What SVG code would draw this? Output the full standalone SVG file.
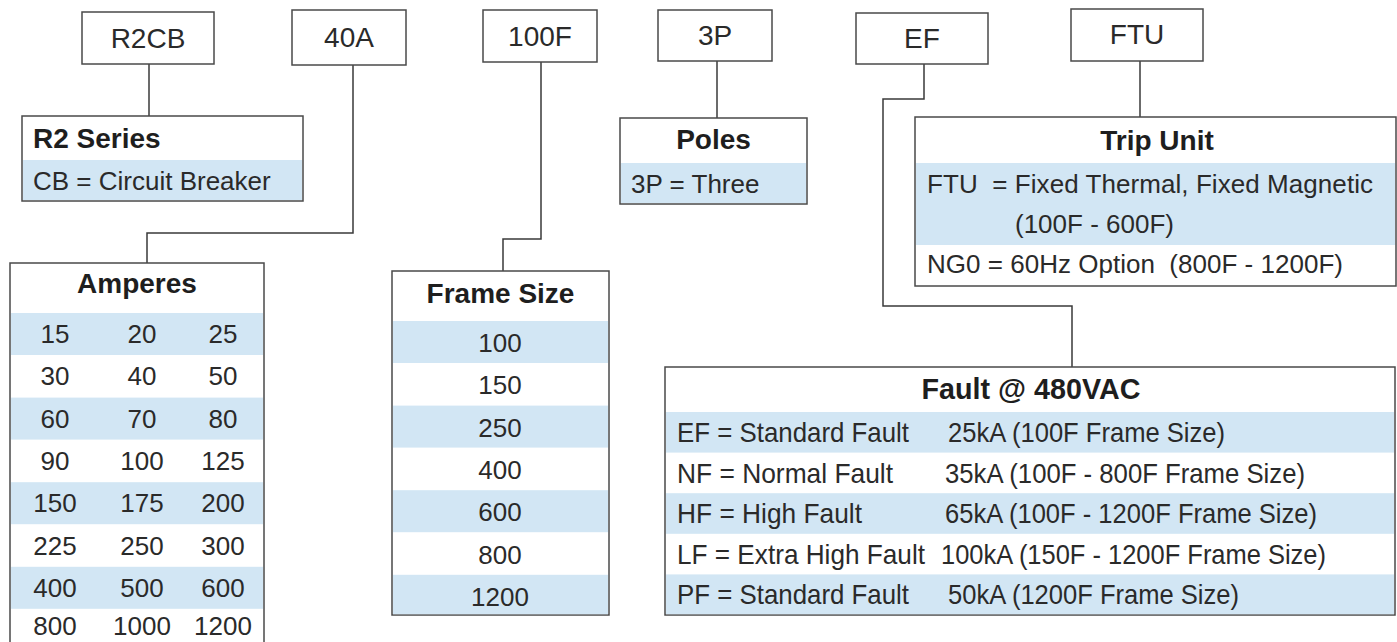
<svg xmlns="http://www.w3.org/2000/svg" width="1397" height="642" viewBox="0 0 1397 642">
<style>
text{font-family:"Liberation Sans",Arial,sans-serif;fill:#2a2a2a}
.lbl{font-size:28px;text-anchor:middle}
.hd{font-size:28px;font-weight:bold;text-anchor:middle;fill:#1e1e1e}
.hdl{font-size:28px;font-weight:bold;fill:#1e1e1e}
.tx{font-size:26px}
.ft{font-size:28px}
.num{font-size:26px;text-anchor:middle}
.box{fill:#fff;stroke:#4a4a4a;stroke-width:1.5}
.blue{fill:#d2e6f4}
.conn{fill:none;stroke:#3a3a3a;stroke-width:1.5}
</style>
<rect width="1397" height="642" fill="#fff"/>

<g id="connectors">
<polyline class="conn" points="149,64 149,116"/>
<polyline class="conn" points="353,65 353,233 147,233 147,263"/>
<polyline class="conn" points="541,62 541,239 503,239 503,271"/>
<polyline class="conn" points="717,61 717,118"/>
<polyline class="conn" points="924,64 924,99 883,99 883,306 1072,306 1072,367"/>
<polyline class="conn" points="1140,61 1140,117"/>
</g>

<g id="code-r2cb"><rect class="box" x="82" y="12" width="132" height="52"/><text class="lbl" x="148" y="48">R2CB</text></g>
<g id="code-40a"><rect class="box" x="292" y="10" width="114" height="55"/><text class="lbl" x="349" y="47">40A</text></g>
<g id="code-100f"><rect class="box" x="483" y="10" width="114" height="52"/><text class="lbl" x="540" y="46">100F</text></g>
<g id="code-3p"><rect class="box" x="658" y="10" width="114" height="51"/><text class="lbl" x="715" y="45">3P</text></g>
<g id="code-ef"><rect class="box" x="856" y="13" width="132" height="51"/><text class="lbl" x="922" y="48">EF</text></g>
<g id="code-ftu"><rect class="box" x="1071" y="9" width="132" height="52"/><text class="lbl" x="1137" y="44">FTU</text></g>

<g id="r2-series">
<rect class="box" x="22" y="116" width="281" height="85"/>
<rect class="blue" x="23" y="160" width="279" height="40"/>
<text class="hdl" x="33" y="148">R2 Series</text>
<text class="tx" x="33" y="190">CB = Circuit Breaker</text>
</g>

<g id="amperes">
<rect class="box" x="10" y="263" width="254" height="400"/>
<rect class="blue" x="11" y="313" width="252" height="42"/>
<rect class="blue" x="11" y="397.6" width="252" height="42"/>
<rect class="blue" x="11" y="482.2" width="252" height="42"/>
<rect class="blue" x="11" y="566.8" width="252" height="42"/>
<text class="hd" x="137" y="293">Amperes</text>
<text class="num" y="343"><tspan x="55">15</tspan><tspan x="142">20</tspan><tspan x="223">25</tspan></text>
<text class="num" y="385.3"><tspan x="55">30</tspan><tspan x="142">40</tspan><tspan x="223">50</tspan></text>
<text class="num" y="427.6"><tspan x="55">60</tspan><tspan x="142">70</tspan><tspan x="223">80</tspan></text>
<text class="num" y="469.9"><tspan x="55">90</tspan><tspan x="142">100</tspan><tspan x="223">125</tspan></text>
<text class="num" y="512.2"><tspan x="55">150</tspan><tspan x="142">175</tspan><tspan x="223">200</tspan></text>
<text class="num" y="554.5"><tspan x="55">225</tspan><tspan x="142">250</tspan><tspan x="223">300</tspan></text>
<text class="num" y="596.8"><tspan x="55">400</tspan><tspan x="142">500</tspan><tspan x="223">600</tspan></text>
<text class="num" y="635"><tspan x="55">800</tspan><tspan x="142">1000</tspan><tspan x="223">1200</tspan></text>
</g>

<g id="frame-size">
<rect class="box" x="392" y="271" width="217" height="344"/>
<rect class="blue" x="393" y="321" width="215" height="42"/>
<rect class="blue" x="393" y="405.6" width="215" height="42"/>
<rect class="blue" x="393" y="490.2" width="215" height="42"/>
<rect class="blue" x="393" y="574.8" width="215" height="39.4"/>
<text class="hd" x="500.5" y="303">Frame Size</text>
<text class="num" x="500" y="352">100</text>
<text class="num" x="500" y="394.3">150</text>
<text class="num" x="500" y="436.6">250</text>
<text class="num" x="500" y="478.9">400</text>
<text class="num" x="500" y="521.2">600</text>
<text class="num" x="500" y="563.5">800</text>
<text class="num" x="500" y="605.8">1200</text>
</g>

<g id="poles">
<rect class="box" x="620" y="118" width="187" height="86"/>
<rect class="blue" x="621" y="163" width="185" height="40"/>
<text class="hd" x="713.5" y="149">Poles</text>
<text class="tx" x="631" y="193">3P = Three</text>
</g>

<g id="trip-unit">
<rect class="box" x="915" y="117" width="481" height="169"/>
<rect class="blue" x="916" y="163" width="479" height="82"/>
<text class="hd" x="1157" y="150">Trip Unit</text>
<text class="tx" x="927" y="193" xml:space="preserve" textLength="446">FTU  = Fixed Thermal, Fixed Magnetic</text>
<text class="tx" x="1015" y="233">(100F - 600F)</text>
<text class="tx" x="927" y="273" xml:space="preserve" textLength="416">NG0 = 60Hz Option  (800F - 1200F)</text>
</g>

<g id="fault">
<rect class="box" x="665" y="367" width="730" height="248"/>
<rect class="blue" x="666" y="412" width="728" height="40.6"/>
<rect class="blue" x="666" y="493.2" width="728" height="40.6"/>
<rect class="blue" x="666" y="574.4" width="728" height="39.8"/>
<text class="hd" x="1031" y="399" style="font-size:29px" textLength="219" lengthAdjust="spacingAndGlyphs">Fault @ 480VAC</text>
<text class="ft" x="677" y="442" textLength="232" lengthAdjust="spacingAndGlyphs">EF = Standard Fault</text>
<text class="ft" x="948" y="442" textLength="277" lengthAdjust="spacingAndGlyphs">25kA (100F Frame Size)</text>
<text class="ft" x="677" y="482.6" textLength="216" lengthAdjust="spacingAndGlyphs">NF = Normal Fault</text>
<text class="ft" x="945" y="482.6" textLength="360" lengthAdjust="spacingAndGlyphs">35kA (100F - 800F Frame Size)</text>
<text class="ft" x="677" y="523.2" textLength="185" lengthAdjust="spacingAndGlyphs">HF = High Fault</text>
<text class="ft" x="945" y="523.2" textLength="372" lengthAdjust="spacingAndGlyphs">65kA (100F - 1200F Frame Size)</text>
<text class="ft" x="677" y="563.8" textLength="248" lengthAdjust="spacingAndGlyphs">LF = Extra High Fault</text>
<text class="ft" x="941" y="563.8" textLength="385" lengthAdjust="spacingAndGlyphs">100kA (150F - 1200F Frame Size)</text>
<text class="ft" x="677" y="604.4" textLength="232" lengthAdjust="spacingAndGlyphs">PF = Standard Fault</text>
<text class="ft" x="948" y="604.4" textLength="291" lengthAdjust="spacingAndGlyphs">50kA (1200F Frame Size)</text>
</g>
</svg>
